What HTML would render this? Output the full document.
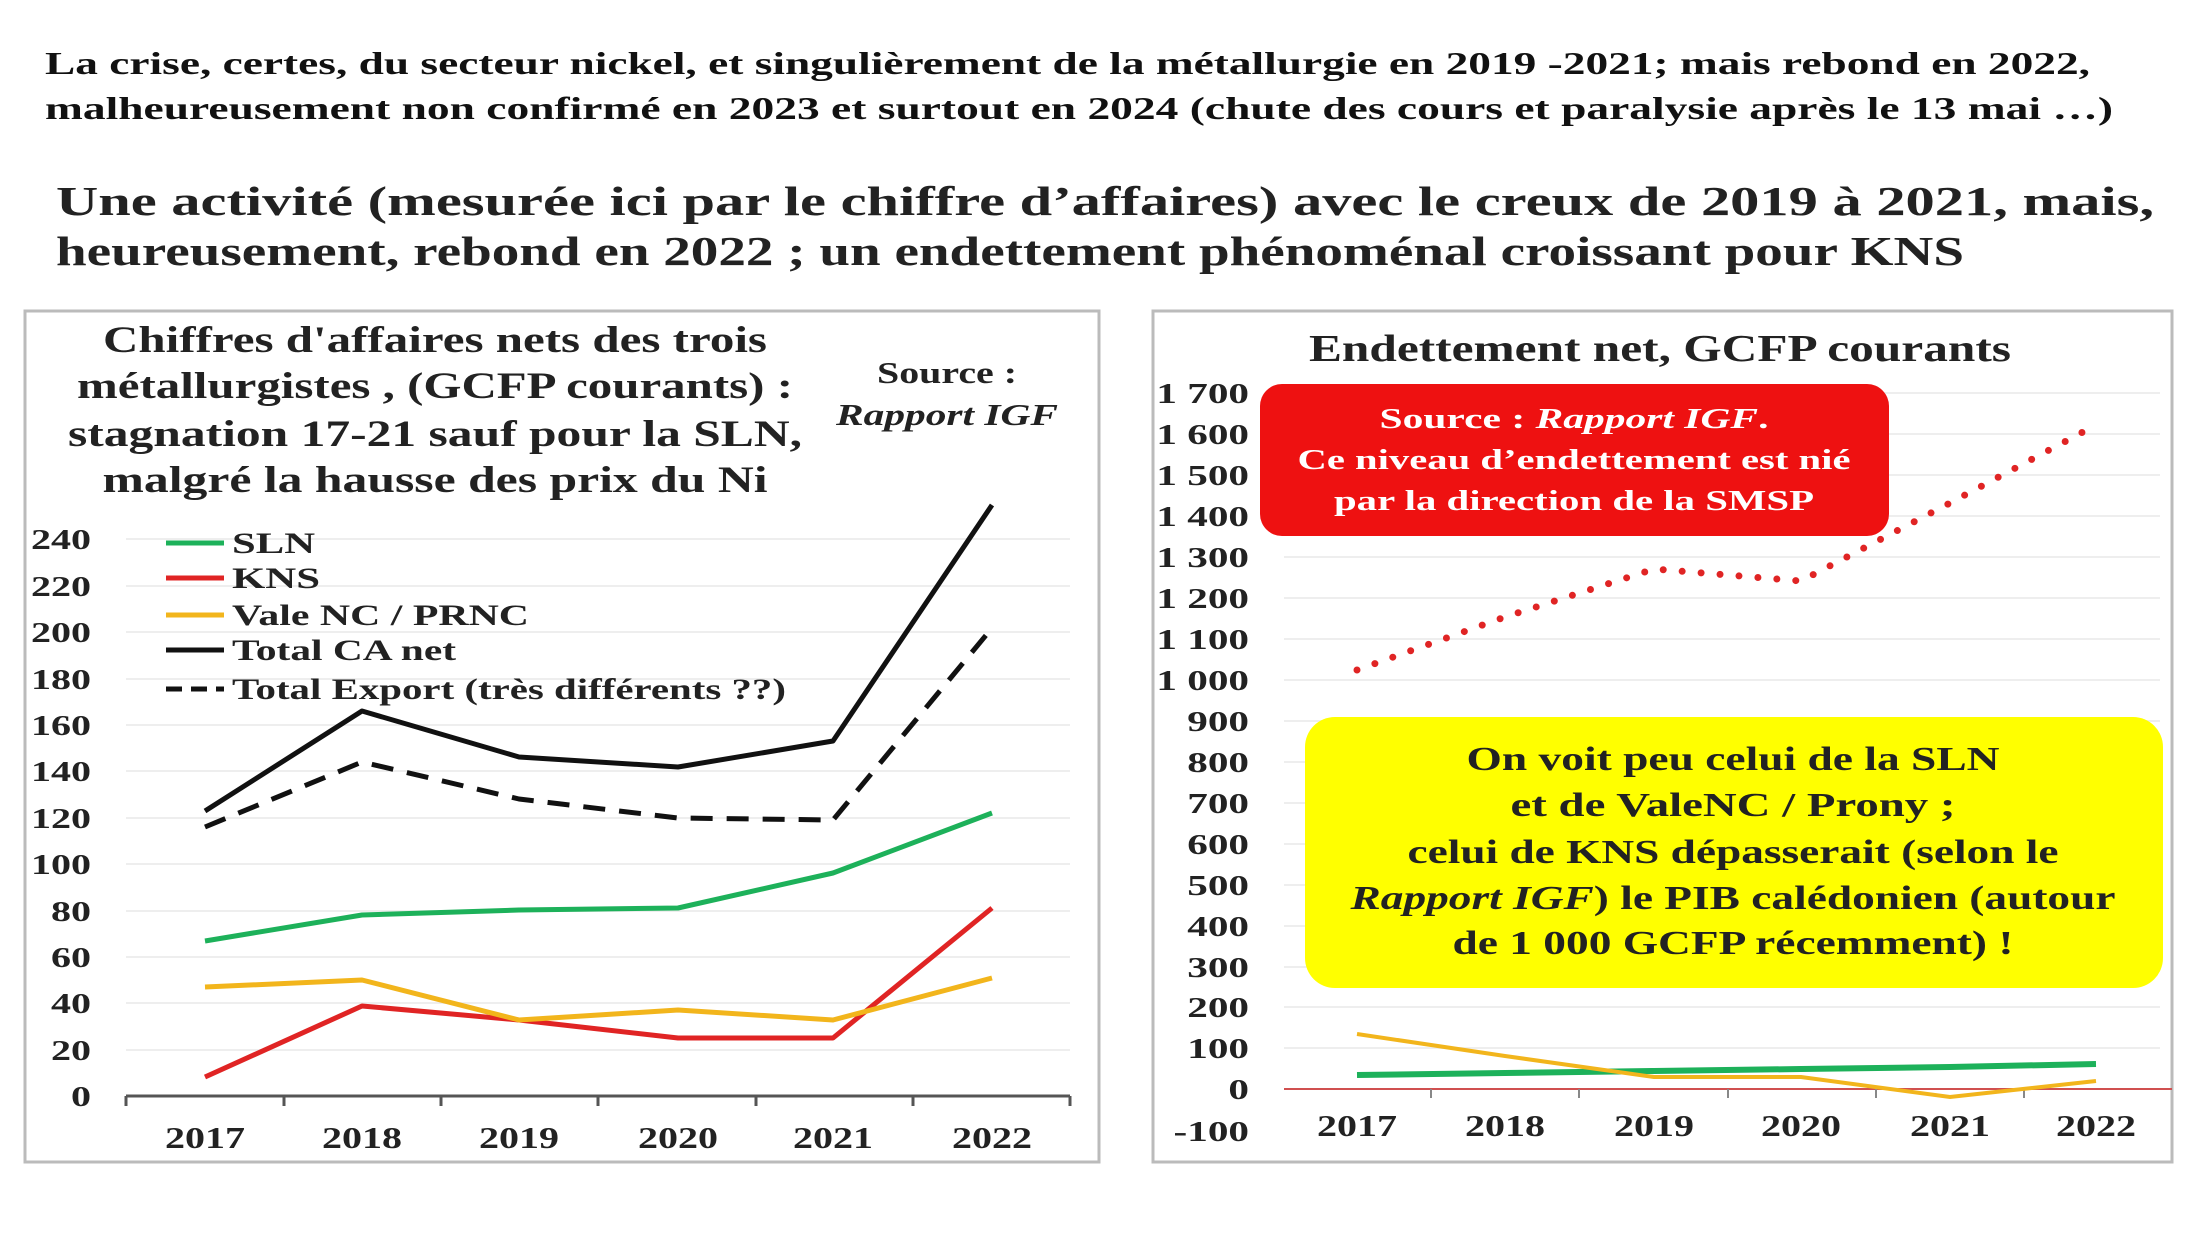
<!DOCTYPE html>
<html><head><meta charset="utf-8"><style>
html,body{margin:0;padding:0;background:#fff;}
svg{display:block;}
text{font-family:"Liberation Serif",serif;font-weight:bold;}
</style></head><body>
<svg width="2200" height="1236" viewBox="0 0 2200 1236" xmlns="http://www.w3.org/2000/svg">
<rect width="2200" height="1236" fill="#fff"/>
<text x="45" y="74" font-size="32" fill="#111" textLength="2045" lengthAdjust="spacingAndGlyphs">La crise, certes, du secteur nickel, et singulièrement de la métallurgie en 2019 -2021; mais rebond en 2022,</text>
<text x="45" y="119" font-size="32" fill="#111" textLength="2068" lengthAdjust="spacingAndGlyphs">malheureusement non confirmé en 2023 et surtout en 2024 (chute des cours et paralysie après le 13 mai …)</text>
<text x="56" y="215" font-size="41" fill="#222" textLength="2098" lengthAdjust="spacingAndGlyphs">Une activité (mesurée ici par le chiffre d’affaires) avec le creux de 2019 à 2021, mais,</text>
<text x="56" y="265" font-size="41" fill="#222" textLength="1908" lengthAdjust="spacingAndGlyphs">heureusement, rebond en 2022 ; un endettement phénoménal croissant pour KNS</text>

<!-- left panel -->
<rect x="25" y="311" width="1074" height="851" fill="#fff" stroke="#bbb" stroke-width="3"/>
<g font-size="37" fill="#222" text-anchor="middle">
<text x="435" y="352" textLength="664" lengthAdjust="spacingAndGlyphs">Chiffres d'affaires nets des trois</text>
<text x="435" y="398" textLength="716" lengthAdjust="spacingAndGlyphs">métallurgistes , (GCFP courants) :</text>
<text x="435" y="446" textLength="734" lengthAdjust="spacingAndGlyphs">stagnation 17-21 sauf pour la SLN,</text>
<text x="435" y="492" textLength="665" lengthAdjust="spacingAndGlyphs">malgré la hausse des prix du Ni</text>
</g>
<text x="947" y="383" font-size="31" fill="#222" text-anchor="middle" textLength="140" lengthAdjust="spacingAndGlyphs">Source :</text>
<text x="947" y="425" font-size="31" fill="#222" text-anchor="middle" font-style="italic" textLength="222" lengthAdjust="spacingAndGlyphs">Rapport IGF</text>
<g stroke="#eee" stroke-width="2">
<line x1="126" y1="1050" x2="1070" y2="1050"/><line x1="126" y1="1003" x2="1070" y2="1003"/><line x1="126" y1="957" x2="1070" y2="957"/><line x1="126" y1="911" x2="1070" y2="911"/><line x1="126" y1="864" x2="1070" y2="864"/><line x1="126" y1="818" x2="1070" y2="818"/><line x1="126" y1="771" x2="1070" y2="771"/><line x1="126" y1="725" x2="1070" y2="725"/><line x1="126" y1="679" x2="1070" y2="679"/><line x1="126" y1="632" x2="1070" y2="632"/><line x1="126" y1="586" x2="1070" y2="586"/><line x1="126" y1="539" x2="1070" y2="539"/>
</g>
<g transform="translate(91,0) scale(1.43,1)">
<g font-size="28" fill="#222" text-anchor="end">
<text x="0" y="1106">0</text><text x="0" y="1060">20</text><text x="0" y="1013">40</text><text x="0" y="967">60</text><text x="0" y="921">80</text><text x="0" y="874">100</text><text x="0" y="828">120</text><text x="0" y="781">140</text><text x="0" y="735">160</text><text x="0" y="689">180</text><text x="0" y="642">200</text><text x="0" y="596">220</text><text x="0" y="549">240</text>
</g></g>
<line x1="126" y1="1096" x2="1070" y2="1096" stroke="#555" stroke-width="3"/>
<g stroke="#555" stroke-width="3">
<line x1="126" y1="1096" x2="126" y2="1106"/><line x1="284" y1="1096" x2="284" y2="1106"/><line x1="441" y1="1096" x2="441" y2="1106"/><line x1="598" y1="1096" x2="598" y2="1106"/><line x1="756" y1="1096" x2="756" y2="1106"/><line x1="913" y1="1096" x2="913" y2="1106"/><line x1="1070" y1="1096" x2="1070" y2="1106"/>
</g>
<g font-size="31" fill="#222" text-anchor="middle">
<text x="205" y="1148" textLength="80" lengthAdjust="spacingAndGlyphs">2017</text><text x="362" y="1148" textLength="80" lengthAdjust="spacingAndGlyphs">2018</text><text x="519" y="1148" textLength="80" lengthAdjust="spacingAndGlyphs">2019</text><text x="678" y="1148" textLength="80" lengthAdjust="spacingAndGlyphs">2020</text><text x="833" y="1148" textLength="80" lengthAdjust="spacingAndGlyphs">2021</text><text x="992" y="1148" textLength="80" lengthAdjust="spacingAndGlyphs">2022</text>
</g>
<g fill="none" stroke-width="5" stroke-linejoin="round">
<polyline stroke="#111" points="205,811 362,711 519,757 678,767 833,741 992,505"/>
<polyline stroke="#111" stroke-dasharray="22,14" points="205,827 362,762 519,799 678,818 833,820 992,628"/>
<polyline stroke="#1db15a" points="205,941 362,915 519,910 678,908 833,873 992,813"/>
<polyline stroke="#e02424" points="205,1077 362,1006 519,1020 678,1038 833,1038 992,908"/>
<polyline stroke="#f2b51c" points="205,987 362,980 519,1020 678,1010 833,1020 992,978"/>
</g>
<g stroke-width="5">
<line x1="166" y1="543" x2="224" y2="543" stroke="#1db15a"/>
<line x1="166" y1="578" x2="224" y2="578" stroke="#e02424"/>
<line x1="166" y1="615" x2="224" y2="615" stroke="#f2b51c"/>
<line x1="166" y1="650" x2="224" y2="650" stroke="#111"/>
<line x1="166" y1="689" x2="224" y2="689" stroke="#111" stroke-dasharray="16,9"/>
</g>
<g font-size="30" fill="#222">
<text x="232" y="553" textLength="83" lengthAdjust="spacingAndGlyphs">SLN</text><text x="232" y="588" textLength="88" lengthAdjust="spacingAndGlyphs">KNS</text><text x="232" y="625" textLength="297" lengthAdjust="spacingAndGlyphs">Vale NC / PRNC</text><text x="232" y="660" textLength="224" lengthAdjust="spacingAndGlyphs">Total CA net</text><text x="232" y="699" textLength="554" lengthAdjust="spacingAndGlyphs">Total Export (très différents ??)</text>
</g>

<!-- right panel -->
<rect x="1153" y="311" width="1019" height="851" fill="#fff" stroke="#bbb" stroke-width="3"/>
<text x="1660" y="361" font-size="38" fill="#222" text-anchor="middle" textLength="702" lengthAdjust="spacingAndGlyphs">Endettement net, GCFP courants</text>
<g stroke="#eee" stroke-width="2">
<line x1="1284" y1="393" x2="2160" y2="393"/><line x1="1284" y1="434" x2="2160" y2="434"/><line x1="1284" y1="475" x2="2160" y2="475"/><line x1="1284" y1="516" x2="2160" y2="516"/><line x1="1284" y1="557" x2="2160" y2="557"/><line x1="1284" y1="598" x2="2160" y2="598"/><line x1="1284" y1="639" x2="2160" y2="639"/><line x1="1284" y1="680" x2="2160" y2="680"/><line x1="1284" y1="721" x2="2160" y2="721"/><line x1="1284" y1="762" x2="2160" y2="762"/><line x1="1284" y1="803" x2="2160" y2="803"/><line x1="1284" y1="844" x2="2160" y2="844"/><line x1="1284" y1="885" x2="2160" y2="885"/><line x1="1284" y1="926" x2="2160" y2="926"/><line x1="1284" y1="967" x2="2160" y2="967"/><line x1="1284" y1="1007" x2="2160" y2="1007"/><line x1="1284" y1="1048" x2="2160" y2="1048"/>
</g>
<g transform="translate(1249,0) scale(1.42,1)">
<g font-size="29" fill="#222" text-anchor="end" font-weight="normal">
<text x="0" y="403">1 700</text><text x="0" y="444">1 600</text><text x="0" y="485">1 500</text><text x="0" y="526">1 400</text><text x="0" y="567">1 300</text><text x="0" y="608">1 200</text><text x="0" y="649">1 100</text><text x="0" y="690">1 000</text><text x="0" y="731">900</text><text x="0" y="772">800</text><text x="0" y="813">700</text><text x="0" y="854">600</text><text x="0" y="895">500</text><text x="0" y="936">400</text><text x="0" y="977">300</text><text x="0" y="1017">200</text><text x="0" y="1058">100</text><text x="0" y="1099">0</text><text x="0" y="1141">-100</text>
</g></g>
<line x1="1284" y1="1089" x2="2172" y2="1089" stroke="#d05050" stroke-width="2"/>
<g stroke="#888" stroke-width="2">
<line x1="1431" y1="1089" x2="1431" y2="1098"/><line x1="1579" y1="1089" x2="1579" y2="1098"/><line x1="1728" y1="1089" x2="1728" y2="1098"/><line x1="1876" y1="1089" x2="1876" y2="1098"/><line x1="2024" y1="1089" x2="2024" y2="1098"/>
</g>
<g font-size="31" fill="#222" text-anchor="middle">
<text x="1357" y="1136" textLength="80" lengthAdjust="spacingAndGlyphs">2017</text><text x="1505" y="1136" textLength="80" lengthAdjust="spacingAndGlyphs">2018</text><text x="1654" y="1136" textLength="80" lengthAdjust="spacingAndGlyphs">2019</text><text x="1801" y="1136" textLength="80" lengthAdjust="spacingAndGlyphs">2020</text><text x="1950" y="1136" textLength="80" lengthAdjust="spacingAndGlyphs">2021</text><text x="2096" y="1136" textLength="80" lengthAdjust="spacingAndGlyphs">2022</text>
</g>
<polyline fill="none" stroke="#e02424" stroke-width="7" stroke-linecap="round" stroke-dasharray="0,19" points="1357,670 1505,617 1654,569 1801,581 1950,503 2096,425"/>
<polyline fill="none" stroke="#1db15a" stroke-width="6" points="1357,1075 1505,1073 1654,1071 1801,1069 1950,1067 2096,1064"/>
<polyline fill="none" stroke="#f2b51c" stroke-width="4" points="1357,1034 1505,1056 1654,1077 1801,1077 1950,1097 2096,1081"/>
<rect x="1260" y="384" width="629" height="152" rx="22" fill="#ee1111"/>
<g font-size="29" fill="#fff" text-anchor="middle">
<text x="1574" y="428" textLength="389" lengthAdjust="spacingAndGlyphs">Source : <tspan font-style="italic">Rapport IGF</tspan>.</text>
<text x="1574" y="469" textLength="553" lengthAdjust="spacingAndGlyphs">Ce niveau d’endettement est nié</text>
<text x="1574" y="510" textLength="480" lengthAdjust="spacingAndGlyphs">par la direction de la SMSP</text>
</g>
<rect x="1305" y="717" width="858" height="271" rx="30" fill="#ffff00"/>
<g font-size="34" fill="#222" text-anchor="middle">
<text x="1733" y="770" textLength="533" lengthAdjust="spacingAndGlyphs">On voit peu celui de la SLN</text>
<text x="1733" y="816" textLength="445" lengthAdjust="spacingAndGlyphs">et de ValeNC / Prony ;</text>
<text x="1733" y="863" textLength="651" lengthAdjust="spacingAndGlyphs">celui de KNS dépasserait (selon le</text>
<text x="1733" y="909" textLength="765" lengthAdjust="spacingAndGlyphs"><tspan font-style="italic">Rapport IGF</tspan>) le PIB calédonien (autour</text>
<text x="1733" y="954" textLength="561" lengthAdjust="spacingAndGlyphs">de 1 000 GCFP récemment) !</text>
</g>
</svg>
</body></html>
